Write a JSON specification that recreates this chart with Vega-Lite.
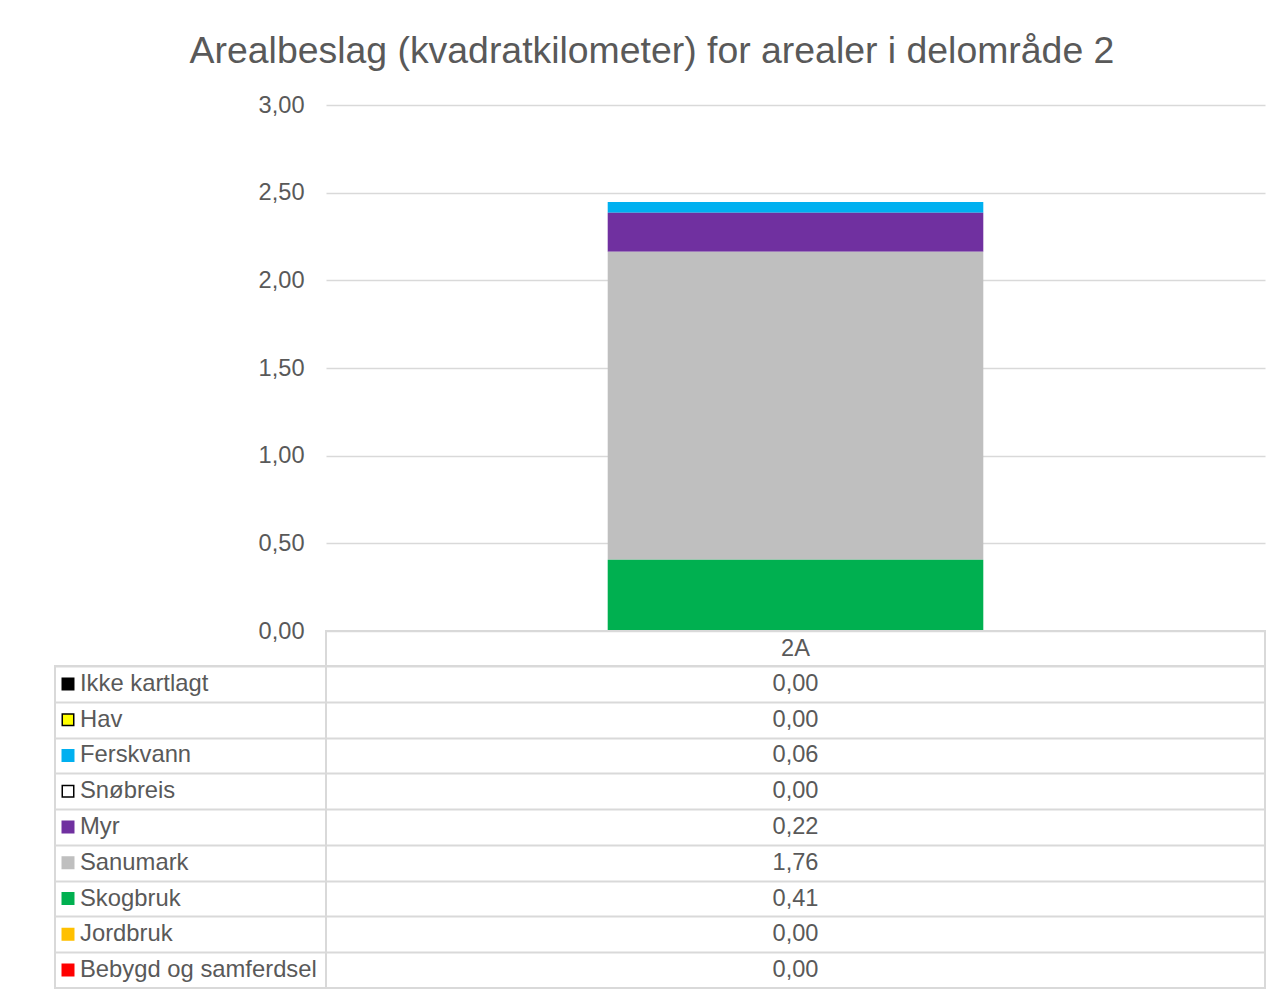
{
  "$schema": "https://vega.github.io/schema/vega-lite/v6.json",
  "padding": {"left": 54, "top": 32, "right": 0, "bottom": 0},
  "background": "#FFFFFF",
  "bounds": "flush",
  "spacing": 0,
  "columns": 2,
  "align": "each",
  "title": {
    "text": "Arealbeslag (kvadratkilometer) for arealer i delområde 2",
    "fontSize": 37.4,
    "font": "Liberation Sans",
    "fontWeight": "normal",
    "color": "#595959",
    "anchor": "middle",
    "frame": "bounds",
    "baseline": "alphabetic",
    "offset": -7,
    "dx": -8
  },
  "datasets": {
    "areal": [
      {"kategori": "Ikke kartlagt", "delomrade": "2A", "areal": 0},
      {"kategori": "Hav", "delomrade": "2A", "areal": 0},
      {"kategori": "Ferskvann", "delomrade": "2A", "areal": 0.062},
      {"kategori": "Snøbreis", "delomrade": "2A", "areal": 0},
      {"kategori": "Myr", "delomrade": "2A", "areal": 0.222},
      {"kategori": "Sanumark", "delomrade": "2A", "areal": 1.757},
      {"kategori": "Skogbruk", "delomrade": "2A", "areal": 0.406},
      {"kategori": "Jordbruk", "delomrade": "2A", "areal": 0},
      {"kategori": "Bebygd og samferdsel", "delomrade": "2A", "areal": 0}
    ]
  },
  "concat": [
    {
      "width": 271,
      "height": 526,
      "view": {"stroke": null},
      "data": {"values": [{}]},
      "mark": {"type": "point", "opacity": 0},
      "encoding": {}
    },
    {
      "width": 939,
      "height": 526,
      "view": {"stroke": null},
      "data": {"name": "areal"},
      "mark": {"type": "bar"},
      "encoding": {
        "x": {
          "field": "delomrade",
          "type": "nominal",
          "axis": null,
          "scale": {"paddingInner": 0.428571, "paddingOuter": 0.428571}
        },
        "y": {
          "field": "areal",
          "type": "quantitative",
          "stack": "zero",
          "scale": {"domain": [0, 3], "nice": false, "zero": true},
          "axis": {
            "values": [0, 0.5, 1, 1.5, 2, 2.5, 3],
            "format": ".2f",
            "title": null,
            "grid": true,
            "gridColor": "#D9D9D9",
            "gridWidth": 1.5,
            "domain": false,
            "ticks": false,
            "tickSize": 0,
            "labelPadding": 22,
            "labelFontSize": 23.6,
            "labelColor": "#595959",
            "labelFont": "Liberation Sans"
          }
        },
        "color": {
          "field": "kategori",
          "type": "nominal",
          "scale": {
            "domain": ["Ikke kartlagt", "Hav", "Ferskvann", "Snøbreis", "Myr", "Sanumark", "Skogbruk", "Jordbruk", "Bebygd og samferdsel"],
            "range": ["#000000", "#FFFF00", "#00B0F0", "#FFFFFF", "#7030A0", "#BFBFBF", "#00B050", "#FFC000", "#FF0000"]
          },
          "legend": null
        },
        "order": {"field": "kategori", "sort": "descending"}
      }
    },
    {
      "width": 271,
      "height": 35,
      "view": {"stroke": null},
      "data": {"values": [{}]},
      "mark": {"type": "point", "opacity": 0},
      "encoding": {}
    },
    {
      "width": 939,
      "height": 35,
      "view": {"stroke": "#D9D9D9", "strokeWidth": 2},
      "data": {"name": "areal"},
      "transform": [{"aggregate": [{"op": "count", "as": "n"}], "groupby": ["delomrade"]}],
      "mark": {"type": "text", "fontSize": 23.6, "font": "Liberation Sans", "color": "#595959"},
      "encoding": {"text": {"field": "delomrade", "type": "nominal"}}
    },
    {
      "width": 271,
      "height": 322,
      "view": {"stroke": "#D9D9D9", "strokeWidth": 2},
      "data": {"name": "areal"},
      "encoding": {
        "y": {
          "field": "kategori",
          "type": "nominal",
          "sort": ["Ikke kartlagt", "Hav", "Ferskvann", "Snøbreis", "Myr", "Sanumark", "Skogbruk", "Jordbruk", "Bebygd og samferdsel"],
          "scale": {"paddingInner": 0, "paddingOuter": 0},
          "axis": {
            "title": null,
            "labels": false,
            "ticks": false,
            "domain": false,
            "grid": true,
            "gridColor": "#D9D9D9",
            "gridWidth": 2,
            "tickBand": "extent"
          }
        }
      },
      "layer": [
        {
          "mark": {"type": "point", "shape": "square", "filled": true, "size": 132, "strokeWidth": 1.5, "opacity": 1, "xOffset": -122.5},
          "encoding": {
            "fill": {
              "field": "kategori",
              "type": "nominal",
              "scale": {
                "domain": ["Ikke kartlagt", "Hav", "Ferskvann", "Snøbreis", "Myr", "Sanumark", "Skogbruk", "Jordbruk", "Bebygd og samferdsel"],
                "range": ["#000000", "#FFFF00", "#00B0F0", "#FFFFFF", "#7030A0", "#BFBFBF", "#00B050", "#FFC000", "#FF0000"]
              },
              "legend": null
            },
            "stroke": {
              "field": "kategori",
              "type": "nominal",
              "scale": {
                "domain": ["Ikke kartlagt", "Hav", "Ferskvann", "Snøbreis", "Myr", "Sanumark", "Skogbruk", "Jordbruk", "Bebygd og samferdsel"],
                "range": ["#000000", "#000000", "#00B0F0", "#000000", "#7030A0", "#BFBFBF", "#00B050", "#FFC000", "#FF0000"]
              },
              "legend": null
            }
          }
        },
        {
          "mark": {"type": "text", "align": "left", "dx": -110.5, "fontSize": 23.8, "font": "Liberation Sans", "color": "#595959"},
          "encoding": {"text": {"field": "kategori", "type": "nominal"}}
        }
      ]
    },
    {
      "width": 939,
      "height": 322,
      "view": {"stroke": "#D9D9D9", "strokeWidth": 2},
      "data": {"name": "areal"},
      "mark": {"type": "text", "fontSize": 23.6, "font": "Liberation Sans", "color": "#595959"},
      "encoding": {
        "y": {
          "field": "kategori",
          "type": "nominal",
          "sort": ["Ikke kartlagt", "Hav", "Ferskvann", "Snøbreis", "Myr", "Sanumark", "Skogbruk", "Jordbruk", "Bebygd og samferdsel"],
          "scale": {"paddingInner": 0, "paddingOuter": 0},
          "axis": {
            "title": null,
            "labels": false,
            "ticks": false,
            "domain": false,
            "grid": true,
            "gridColor": "#D9D9D9",
            "gridWidth": 2,
            "tickBand": "extent"
          }
        },
        "text": {"field": "areal", "type": "quantitative", "format": ".2f"}
      }
    }
  ],
  "config": {
    "font": "Liberation Sans",
    "locale": {"number": {"decimal": ",", "thousands": " ", "grouping": [3], "currency": ["", " kr"]}}
  }
}
